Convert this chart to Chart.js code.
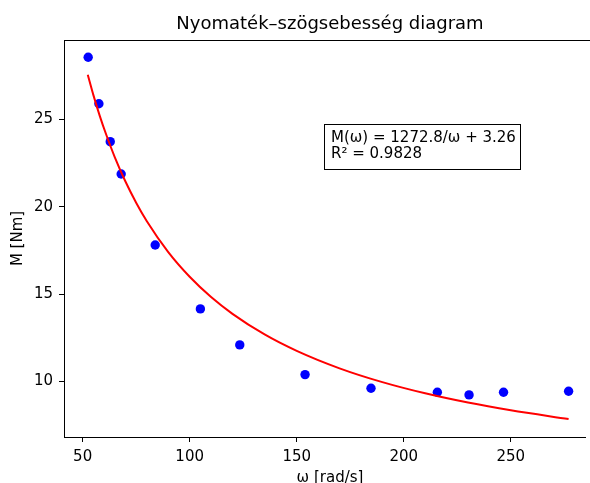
<!DOCTYPE html>
<html>
<head>
<meta charset="utf-8">
<script src="https://cdn.jsdelivr.net/npm/chart.js@4/dist/chart.umd.min.js"></script>
<style>
html,body{margin:0;padding:0;background:#fff;overflow:hidden;}
#wrap{width:590px;height:483px;position:relative;}
</style>
</head>
<body>
<div id="wrap"><canvas id="c" width="590" height="483"></canvas></div>
<script>
// Measured points (omega [rad/s], torque [Nm])
const omega = [52.6, 57.6, 62.9, 68.0, 83.9, 105.0, 123.4, 153.9, 184.7, 215.7, 230.5, 246.6, 277.0];
const torque = [28.55, 25.89, 23.72, 21.87, 17.81, 14.15, 12.09, 10.39, 9.61, 9.38, 9.23, 9.38, 9.44];
// Fitted curve samples
const fitOmega = [52.4, 55, 58, 61, 65, 70, 75, 80, 90, 100, 110, 120, 135, 150, 170, 190, 210, 230, 250, 277.0];
const fitTorque = [27.55, 26.40, 25.20, 24.13, 22.84, 21.44, 20.23, 19.17, 17.40, 15.99, 14.83, 13.87, 12.69, 11.75, 10.75, 9.96, 9.32, 8.79, 8.35, 7.85];
// Ticks
const xTicks = [50, 100, 150, 200, 250];
const yTicks = [10, 15, 20, 25];
// Texts
const titleText = 'Nyomaték–szögsebesség diagram';
const xLabel = 'ω [rad/s]';
const yLabel = 'M [Nm]';
const annotLines = ['M(ω) = 1272.8/ω + 3.26', 'R² = 0.9828'];

const FONT = '"DejaVu Sans", sans-serif';

const deco = {
  id: 'deco',
  afterDraw(chart) {
    const ctx = chart.ctx, a = chart.chartArea;
    ctx.save();
    // top spine
    ctx.strokeStyle = '#000';
    ctx.lineWidth = 1;
    ctx.beginPath();
    ctx.moveTo(a.left, Math.round(a.top) + 0.5);
    ctx.lineTo(chart.width, Math.round(a.top) + 0.5);
    ctx.stroke();
    const cx = 330;
    // title
    ctx.fillStyle = '#000';
    ctx.font = '18px ' + FONT;
    ctx.textAlign = 'center';
    ctx.textBaseline = 'alphabetic';
    ctx.fillText(titleText, cx, 29);
    // x label
    ctx.font = '15px ' + FONT;
    ctx.textBaseline = 'middle';
    ctx.fillText(xLabel, cx, 478);
    // y label
    ctx.save();
    ctx.translate(18, (a.top + a.bottom) / 2);
    ctx.rotate(-Math.PI / 2);
    ctx.fillText(yLabel, 0, 0);
    ctx.restore();
    // annotation box
    ctx.fillStyle = '#fff';
    ctx.fillRect(324, 124, 196, 45);
    ctx.strokeStyle = '#000';
    ctx.lineWidth = 1;
    ctx.strokeRect(324.5, 124.5, 196, 45);
    ctx.fillStyle = '#000';
    ctx.textAlign = 'left';
    ctx.textBaseline = 'middle';
    ctx.font = '15px ' + FONT;
    ctx.fillText(annotLines[0], 331, 138);
    ctx.fillText(annotLines[1], 331, 154);
    ctx.restore();
  }
};

new Chart(document.getElementById('c'), {
  type: 'scatter',
  data: {
    datasets: [
      {
        label: 'fit',
        data: fitOmega.map((x, i) => ({x: x, y: fitTorque[i]})),
        showLine: true,
        borderColor: '#ff0000',
        borderWidth: 2,
        pointRadius: 0,
        cubicInterpolationMode: 'monotone',
        fill: false,
        order: 0
      },
      {
        label: 'data',
        data: omega.map((x, i) => ({x: x, y: torque[i]})),
        backgroundColor: '#0000ff',
        borderColor: '#0000ff',
        borderWidth: 0,
        pointRadius: 4.7,
        order: 1
      }
    ]
  },
  options: {
    responsive: false,
    animation: false,
    devicePixelRatio: 1,
    layout: {padding: {top: 40, right: 0, left: 0, bottom: 0}},
    plugins: {legend: {display: false}, tooltip: {enabled: false}, title: {display: false}},
    scales: {
      x: {
        type: 'linear',
        min: 41.3,
        max: 284.8,
        afterFit(s) { s.height = 46; },
        afterBuildTicks(s) { s.ticks = xTicks.map(v => ({value: v})); },
        grid: {drawOnChartArea: false, drawTicks: true, tickLength: 5, tickWidth: 1, tickColor: '#000'},
        border: {display: true, color: '#000', width: 1},
        ticks: {color: '#000', font: {family: FONT, size: 15}, padding: 6, maxRotation: 0, autoSkip: false}
      },
      y: {
        type: 'linear',
        min: 6.82,
        max: 29.54,
        afterFit(s) { s.width = 64; },
        afterBuildTicks(s) { s.ticks = yTicks.map(v => ({value: v})); },
        grid: {drawOnChartArea: false, drawTicks: true, tickLength: 5, tickWidth: 1, tickColor: '#000'},
        border: {display: true, color: '#000', width: 1},
        ticks: {color: '#000', font: {family: FONT, size: 15}, padding: 6, autoSkip: false}
      }
    }
  },
  plugins: [deco]
});
</script>
</body>
</html>
